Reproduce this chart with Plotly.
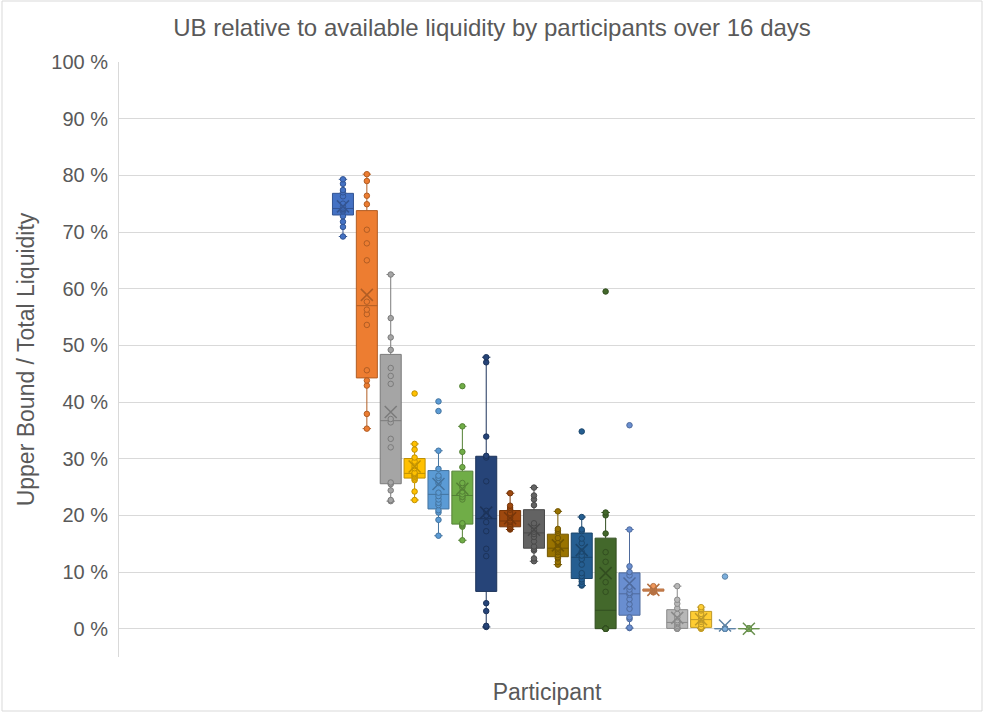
import numpy as np
import plotly.graph_objects as go

TITLE = "UB relative to available liquidity by participants over 16 days"
Y_TITLE = "Upper Bound / Total Liquidity"
X_TITLE = "Participant"

# UB / total liquidity (%), one value per day, 16 days per participant
p01 = [69.2, 70.9, 71.8, 72.8, 73.6, 73.8, 74.0, 74.1, 74.2, 74.5, 75.0, 76.3, 77.0, 77.4, 78.5, 79.3]
p02 = [35.3, 37.9, 42.9, 43.8, 45.6, 53.6, 55.5, 56.3, 57.7, 65.0, 68.0, 70.4, 74.9, 76.4, 79.0, 80.2]
p03 = [22.5, 22.7, 24.4, 25.5, 25.8, 32.0, 33.5, 36.4, 37.0, 43.2, 44.6, 46.0, 49.2, 51.4, 54.8, 62.5]
p04 = [22.7, 24.2, 26.2, 26.5, 26.8, 27.0, 27.2, 27.3, 27.5, 28.3, 28.7, 29.5, 30.2, 31.6, 32.6, 41.5]
p05 = [16.4, 19.2, 20.5, 20.9, 21.8, 22.2, 22.8, 23.4, 24.0, 25.7, 26.6, 27.0, 28.2, 31.4, 38.4, 40.1]
p06 = [15.6, 18.0, 18.2, 18.4, 18.6, 22.8, 23.2, 23.3, 23.7, 24.2, 24.9, 25.7, 28.5, 31.2, 35.7, 42.8]
p07 = [0.3, 0.5, 3.1, 4.5, 12.8, 14.1, 17.2, 18.8, 20.0, 20.8, 26.0, 30.2, 30.5, 33.9, 47.0, 47.9]
p08 = [17.5, 17.6, 17.8, 17.9, 18.2, 18.5, 18.8, 18.9, 19.1, 19.5, 19.9, 20.4, 21.0, 21.3, 21.7, 23.9]
p09 = [11.9, 12.4, 13.8, 14.1, 14.5, 15.4, 16.2, 16.7, 17.1, 17.5, 18.2, 18.6, 21.8, 22.8, 23.5, 24.9]
p10 = [11.3, 11.8, 12.4, 12.6, 13.0, 13.5, 13.8, 14.1, 14.3, 14.8, 15.1, 16.0, 16.9, 17.3, 17.6, 20.7]
p11 = [7.6, 7.8, 8.3, 8.7, 9.3, 9.8, 11.3, 12.3, 12.9, 13.6, 15.1, 15.9, 17.2, 17.5, 19.7, 34.8]
p12 = [0.0, 0.0, 0.0, 0.0, 0.0, 0.0, 0.0, 0.0, 6.5, 8.2, 11.8, 13.5, 16.8, 20.0, 20.5, 59.5]
p13 = [0.1, 0.2, 1.7, 2.0, 3.5, 4.3, 5.2, 6.0, 6.3, 6.9, 7.4, 9.4, 10.0, 11.0, 17.5, 35.9]
p14 = [6.4, 6.5, 6.6, 6.6, 6.7, 6.7, 6.8, 6.8, 6.8, 6.9, 6.9, 7.0, 7.0, 7.1, 7.3, 7.5]
p15 = [0.0, 0.0, 0.0, 0.0, 0.2, 0.5, 0.8, 1.0, 1.2, 1.5, 2.0, 2.6, 3.6, 4.4, 5.1, 7.5]
p16 = [0.0, 0.0, 0.1, 0.2, 0.3, 0.8, 1.2, 1.5, 1.7, 1.9, 2.2, 2.6, 3.2, 3.4, 3.5, 3.8]
p17 = [0.0, 0.0, 0.0, 0.0, 0.0, 0.0, 0.0, 0.0, 0.0, 0.0, 0.0, 0.0, 0.0, 0.0, 0.0, 9.2]
p18 = [0.0, 0.0, 0.0, 0.0, 0.0, 0.0, 0.0, 0.0, 0.0, 0.0, 0.0, 0.0, 0.0, 0.0, 0.0, 0.0]

participants = [p01, p02, p03, p04, p05, p06, p07, p08, p09,
                p10, p11, p12, p13, p14, p15, p16, p17, p18]

# Office theme series colours
colors = ["#4472C4", "#ED7D31", "#A5A5A5", "#FFC000", "#5B9BD5", "#70AD47",
          "#264478", "#9E480E", "#636363", "#997300", "#255E91", "#43682B",
          "#698ED0", "#F1975A", "#B7B7B7", "#FFCD33", "#7CAFDD", "#8CC168"]

TEXT = "#595959"
GRID = "#D9D9D9"
FONT = "Liberation Sans, Arial, sans-serif"


def darker(hex_color, f=0.75):
    h = hex_color.lstrip("#")
    r, g, b = (int(h[i:i + 2], 16) for i in (0, 2, 4))
    return "rgb(%d,%d,%d)" % (r * f, g * f, b * f)


def excel_stats(vals):
    # quartile "exclusive" like Excel's box & whisker chart
    v = np.sort(np.asarray(vals, dtype=float))
    q1, med, q3 = np.percentile(v, [25, 50, 75], method="weibull")
    iqr = q3 - q1
    lo = v[v >= q1 - 1.5 * iqr].min()
    hi = v[v <= q3 + 1.5 * iqr].max()
    return q1, med, q3, lo, hi, v.mean()


fig = go.Figure()

for i, (vals, c) in enumerate(zip(participants, colors), start=1):
    q1, med, q3, lo, hi, mean = excel_stats(vals)
    dk = darker(c)
    fig.add_trace(go.Box(
        x=[i], q1=[q1], median=[med], q3=[q3],
        lowerfence=[lo], upperfence=[hi],
        orientation="v", width=0.88, whiskerwidth=0.4,
        fillcolor=c, line=dict(color=dk, width=1),
        boxpoints=False, hoverinfo="skip", showlegend=False,
    ))
    fig.add_trace(go.Scatter(
        x=[i] * len(vals), y=vals, mode="markers",
        marker=dict(size=5.5, color=c, line=dict(color=dk, width=1)),
        showlegend=False, hoverinfo="y",
    ))
    fig.add_trace(go.Scatter(
        x=[i], y=[mean], mode="markers",
        marker=dict(symbol="x-thin", size=12, line=dict(color=dk, width=1.5)),
        showlegend=False, hoverinfo="skip",
    ))

fig.update_layout(
    width=984, height=713,
    margin=dict(l=119, r=9, t=62, b=56),
    paper_bgcolor="white", plot_bgcolor="white",
    font=dict(family=FONT, color=TEXT),
    title=dict(text=TITLE, x=0.5, xanchor="center", y=1 - 28 / 713,
               yanchor="middle", font=dict(size=24, color=TEXT)),
    xaxis=dict(range=[-8.38, 27.47], showgrid=False, zeroline=False,
               showticklabels=False, ticks="", showline=False,
               title=dict(text=X_TITLE, font=dict(size=23, color=TEXT), standoff=26)),
    yaxis=dict(range=[-5, 100], tick0=0, dtick=10, ticksuffix=" %",
               tickfont=dict(size=20, color=TEXT), showgrid=True,
               gridcolor=GRID, gridwidth=1, zeroline=False,
               showline=True, linecolor=GRID, linewidth=1, ticks="",
               ticklabelstandoff=6,
               title=dict(text=Y_TITLE, font=dict(size=23, color=TEXT), standoff=10)),
    shapes=[dict(type="rect", xref="paper", yref="paper",
                 x0=(2 - 119) / 856, x1=(982 - 119) / 856,
                 y0=(657 - 711) / 595, y1=(657 - 1) / 595,
                 line=dict(color=GRID, width=1), layer="below")],
)

fig.write_html("out.html", config={"displayModeBar": False},
               post_script="document.body.style.margin='0px';")
